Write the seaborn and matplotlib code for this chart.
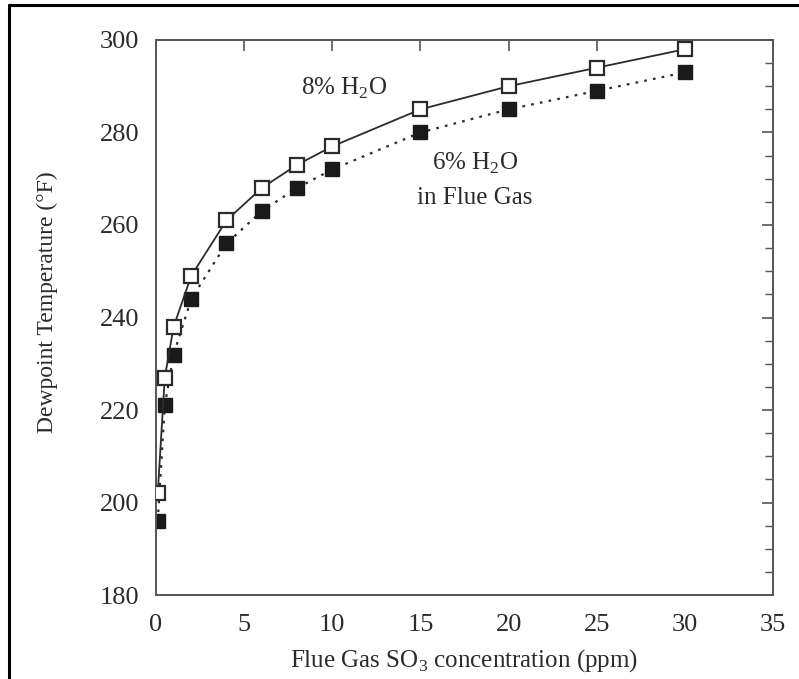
"""
Dewpoint temperature vs flue gas SO3 concentration
"""
import numpy as np
import pandas as pd
import matplotlib
matplotlib.use('Agg')
import matplotlib.pyplot as plt
from matplotlib.lines import Line2D
from matplotlib.ticker import MultipleLocator
import seaborn as sns

# Dados
so3_ppm = [0.1, 0.5, 1, 2, 4, 6, 8, 10, 15, 20, 25, 30]
dewpoint_8pct = [202, 227, 238, 249, 261, 268, 273, 277, 285, 290, 294, 298]
dewpoint_6pct = [196, 221, 232, 244, 256, 263, 268, 272, 280, 285, 289, 293]

x_ticks = [0, 5, 10, 15, 20, 25, 30, 35]
y_ticks = [180, 200, 220, 240, 260, 280, 300]

# Configurações
sns.set_style('white')
plt.rcParams['font.family'] = ['Liberation Serif', 'DejaVu Serif']
plt.rcParams['mathtext.fontset'] = 'custom'
plt.rcParams['mathtext.rm'] = 'Liberation Serif'

ink = '#2b2b2b'
axis_gray = '#555555'

df = pd.DataFrame({'so3': so3_ppm, 'h8': dewpoint_8pct, 'h6': dewpoint_6pct})

fig = plt.figure(figsize=(7.99, 6.79), dpi=100)
ax = fig.add_axes([0.1952, 0.1237, 0.7723, 0.8174])

# 8% H2O - linha contínua, quadrados abertos
sns.lineplot(data=df, x='so3', y='h8', ax=ax, color=ink, linewidth=1.3,
             linestyle='-', marker='s', markersize=9.5, markerfacecolor='white',
             markeredgecolor=ink, markeredgewidth=1.6, zorder=3)
# 6% H2O - linha pontilhada, quadrados preenchidos
sns.lineplot(data=df, x='so3', y='h6', ax=ax, color=ink, linewidth=1.6,
             linestyle=(0, (1.2, 2.8)), marker='s', markersize=9.5,
             markerfacecolor='#1a1a1a', markeredgecolor='#1a1a1a',
             markeredgewidth=1.0, zorder=2)

ax.set_xlim(0, 35)
ax.set_ylim(180, 300)
ax.set_xticks(x_ticks)
ax.set_yticks(y_ticks)
ax.yaxis.set_minor_locator(MultipleLocator(5))
ax.tick_params(axis='both', which='both', direction='in', top=True, right=True,
               colors=axis_gray, labelcolor=ink, labelsize=19)
ax.tick_params(axis='x', which='major', length=8, width=1.2, pad=14)
ax.tick_params(axis='y', which='major', length=8, width=1.2, pad=12)
ax.tick_params(axis='y', which='minor', length=6, width=1.0)
for spine in ax.spines.values():
    spine.set_color(axis_gray)
    spine.set_linewidth(1.4)

ax.set_xlabel('Flue Gas SO$_3$ concentration (ppm)', fontsize=18, color=ink, labelpad=8)
ax.set_ylabel('Dewpoint Temperature (°F)', fontsize=17, color=ink)
ax.yaxis.set_label_coords(-0.158, 0.528)

ax.text(10.7, 289.6, '8% H$_2$O', fontsize=18, color=ink, ha='center', va='center')
ax.text(18.1, 273.4, '6% H$_2$O', fontsize=18, color=ink, ha='center', va='center')
ax.text(18.1, 265.8, 'in Flue Gas', fontsize=18, color=ink, ha='center', va='center')

# Moldura da imagem original (topo e esquerda)
fig.add_artist(Line2D([9 / 799, 1.0], [1 - 5 / 679, 1 - 5 / 679],
                      transform=fig.transFigure, color='black', linewidth=2.2))
fig.add_artist(Line2D([9 / 799, 9 / 799], [0.0, 1 - 5 / 679],
                      transform=fig.transFigure, color='black', linewidth=2.2))

fig.savefig('out.png', dpi=100)
plt.close(fig)
